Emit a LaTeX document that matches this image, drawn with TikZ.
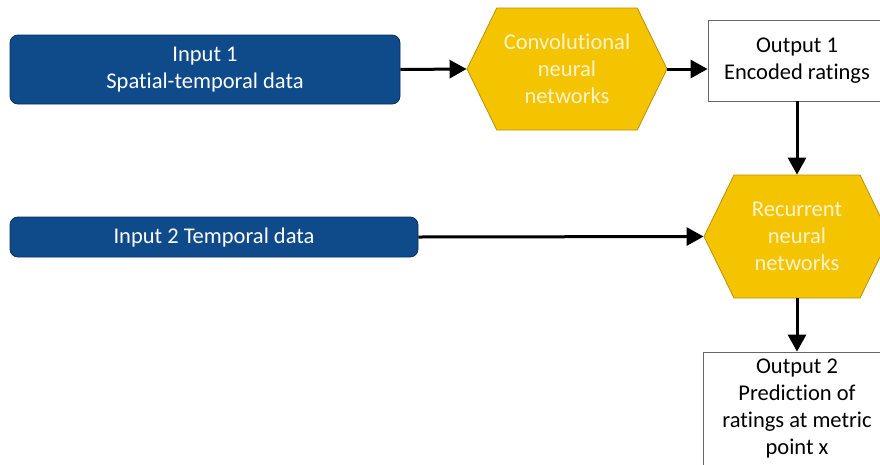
\documentclass[tikz,border=0pt]{standalone}
\usepackage{fontspec}
\setmainfont[Ligatures=NoCommon]{Carlito}
\usetikzlibrary{positioning,shapes.symbols,arrows.meta}
\definecolor{inblue}{HTML}{0F4A8A}
\definecolor{inblueline}{HTML}{0A2F5C}
\definecolor{hexgold}{HTML}{F5C400}
\definecolor{hexgoldline}{HTML}{B89200}
\definecolor{hextext}{HTML}{FFF3CC}
\tikzset{
  inputbox/.style={rounded corners=8pt,fill=inblue,draw=inblueline,line width=0.8pt,
    text=white,align=center},
  netbox/.style={signal,signal to=east and west,signal pointer angle=128,
    fill=hexgold,draw=hexgoldline,line width=0.8pt,text=hextext,align=center},
  outbox/.style={rectangle,draw=black!60,line width=0.8pt,fill=white,align=center},
  arrowline/.style={->,line width=3pt}
}
\begin{document}
\begin{tikzpicture}[x=1pt,y=-1pt,>={Triangle[length=17pt,width=18pt]},font=\fontsize{22.5}{27}\selectfont]
\useasboundingbox[fill=white] (0,0) rectangle (880,464);
% inputs
\node[inputbox,minimum width=390pt,minimum height=69pt] (in1) at (205,69.5) {Input 1\\Spatial-temporal data};
\node[inputbox,minimum width=408pt,minimum height=40pt] (in2) at (214,237) {Input 2 Temporal data};
% networks
\node[netbox,minimum width=200pt,minimum height=122pt] (cnn) at (567,69) {Convolutional\\neural\\networks};
\node[netbox,minimum width=186pt,minimum height=123pt] (rnn) at (797,236.5) {Recurrent\\neural\\networks};
% outputs
\node[outbox,minimum width=178pt,minimum height=81pt] (out1) at (797,60.5) {Output 1\\Encoded ratings};
\node[outbox,minimum width=188pt,minimum height=114pt] (out2) at (797,409) {Output 2\\Prediction of\\ratings at metric\\point x};
% connectors
\draw[arrowline] (in1.east) -- (cnn.west);
\draw[arrowline] (cnn.east) -- (cnn.east -| out1.west);
\draw[arrowline] (out1.south) -- (rnn.north);
\draw[arrowline] (in2.east) -- (rnn.west);
\draw[arrowline] (rnn.south) -- (out2.north);
\end{tikzpicture}
\end{document}
